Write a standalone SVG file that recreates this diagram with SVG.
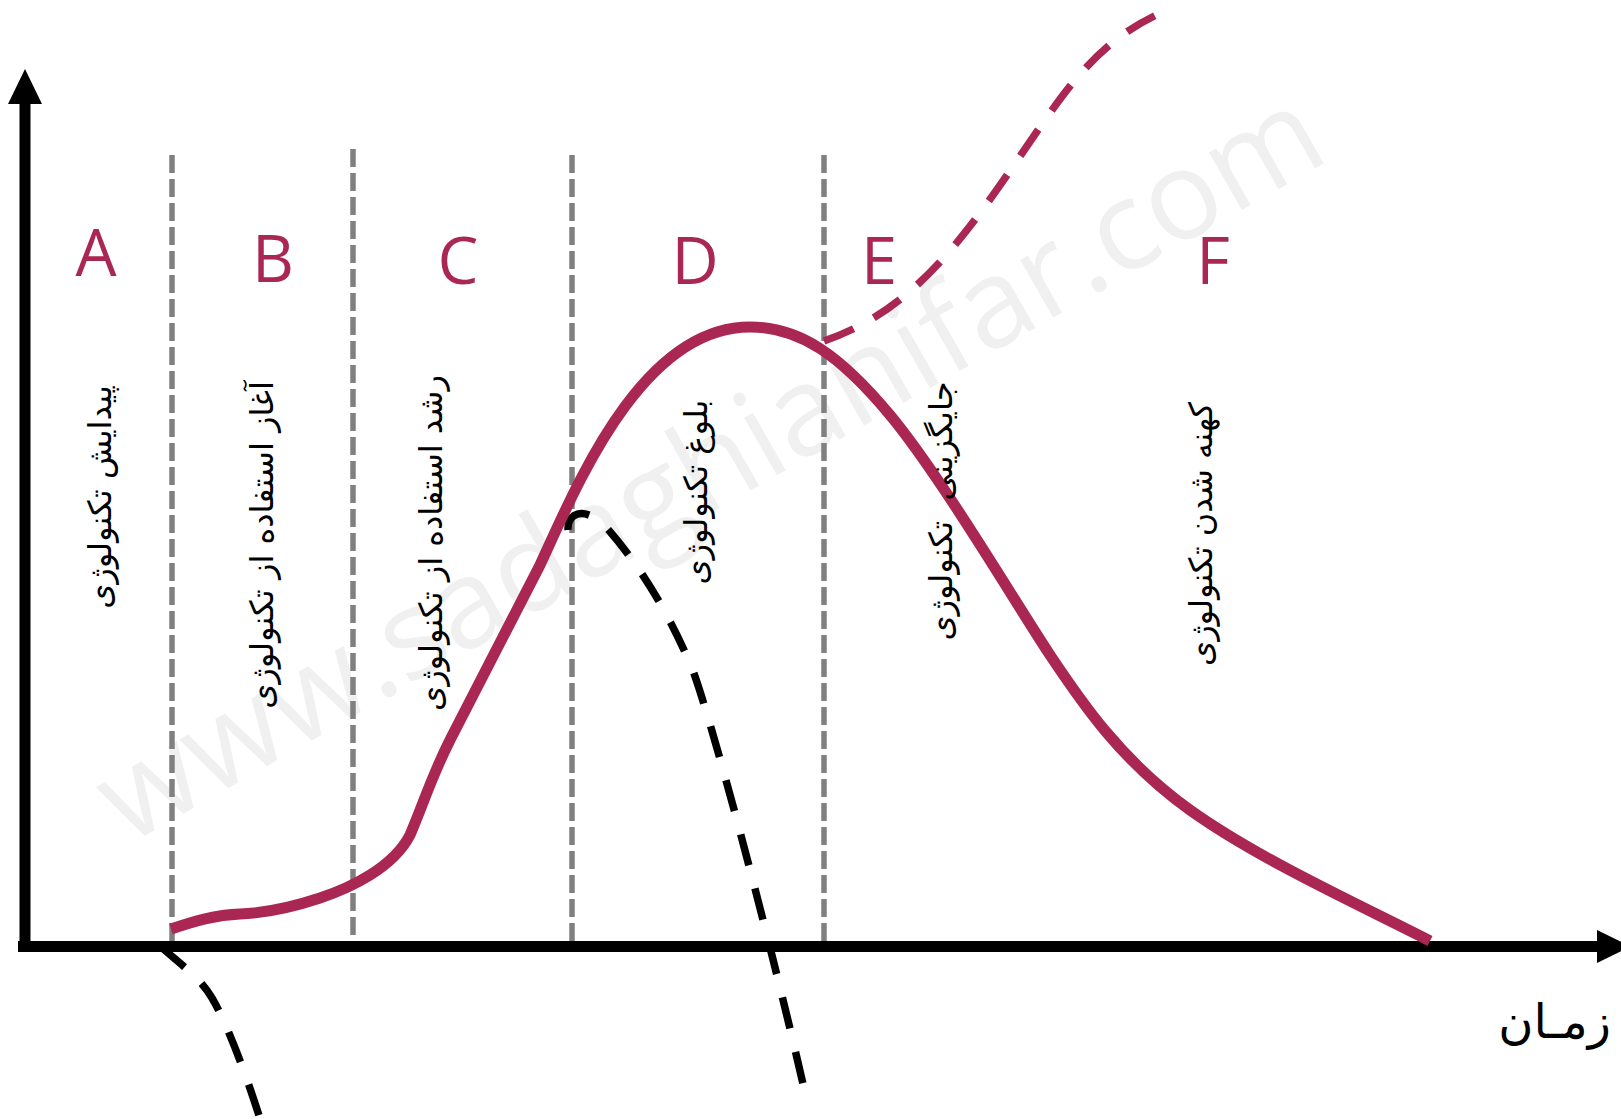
<svg xmlns="http://www.w3.org/2000/svg" width="1621" height="1119" viewBox="0 0 1621 1119">
<style>
.wm{font-family:"Open Sans","Noto Sans",sans-serif;font-size:124px;fill:#f0f0f0}
.grid{stroke:#808080;stroke-width:5.5;stroke-dasharray:18 6;fill:none}
.axis{stroke:#000;stroke-width:11;fill:none}
.main{stroke:#ab2753;stroke-width:11;fill:none;stroke-linecap:butt}
.rdash{stroke:#ab2753;stroke-width:7.5;fill:none;stroke-dasharray:32 23}
.bdash{stroke:#000;stroke-width:7.5;fill:none;stroke-dasharray:32 24}
.let{font-family:"Open Sans","Noto Sans",sans-serif;font-size:65px;fill:#ab2753;text-anchor:middle}
.fa{font-family:"DejaVu Sans",sans-serif;font-size:32px;fill:#000;text-anchor:middle;direction:rtl;white-space:pre}
</style>
<rect width="1621" height="1119" fill="#fff"/>
<text class="wm" transform="translate(730,502) rotate(-29.7)" text-anchor="middle">www.sadaghianifar.com</text>
<g id="grid-lines">
<line class="grid" x1="172" y1="155" x2="172" y2="946"/>
<line class="grid" x1="353" y1="149" x2="353" y2="941"/>
<line class="grid" x1="572" y1="155" x2="572" y2="946"/>
<line class="grid" x1="824" y1="155" x2="824" y2="946"/>
</g>
<g id="axes">
<line class="axis" x1="25" y1="946" x2="25" y2="100"/>
<polygon points="8,104 25,69 42,104" fill="#000"/>
<line class="axis" x1="18" y1="946.5" x2="1600" y2="946.5"/>
<polygon points="1597,930 1631,946.5 1597,963" fill="#000"/>
</g>
<g id="connectors">
<path class="bdash" d="M160,946 C185,968 200,978 212,998 C228,1025 248,1080 262,1125"/>
<path class="bdash" d="M568,530 C567,510 588,508 605,526 C640,565 668,612 692,668 C715,730 775,960 806,1097"/>
<path class="rdash" d="M824,341 C870,325 905,300 940,262 C980,218 1010,170 1045,120 C1080,70 1110,35 1165,11"/>
<path class="main" d="M171,929 C195,921 215,915 240,914 C265,913 290,908 320,898 C350,888 393,868 410,835 C425,800 430,780 450,740 L540,565 C575,490 640,327 750,327 C800,327 840,355 890,415 C940,475 1020,610 1050,655 C1080,700 1120,760 1190,810 C1260,860 1360,905 1430,941"/>
</g>
<g id="stage-A"><text class="let" x="96" y="276">A</text>
<text class="fa" font-size="33" transform="translate(111,497) rotate(-90)">پیدایش تکنولوژی</text></g>
<g id="stage-B"><text class="let" x="273" y="282">B</text>
<text class="fa" font-size="31" transform="translate(273,545) rotate(-90)">آغاز استفاده از تکنولوژی</text></g>
<g id="stage-C"><text class="let" x="458" y="284">C</text>
<text class="fa" font-size="30" transform="translate(442,543) rotate(-90)">رشد استفاده از تکنولوژی</text></g>
<g id="stage-D"><text class="let" x="695" y="284">D</text>
<text class="fa" font-size="33" transform="translate(707,492) rotate(-90)">بلوغ تکنولوژی</text></g>
<g id="stage-E"><text class="let" x="879" y="284">E</text>
<text class="fa" font-size="33" transform="translate(952,511) rotate(-90)">جایگزینی  تکنولوژی</text></g>
<g id="stage-F"><text class="let" x="1213" y="284">F</text>
<text class="fa" font-size="32" transform="translate(1212,534) rotate(-90)">کهنه شدن تکنولوژی</text></g>
<g id="time-label"><text font-family="DejaVu Sans, sans-serif" font-size="48" x="1611" y="1038" text-anchor="start" direction="rtl">زمـان</text></g>
</svg>
